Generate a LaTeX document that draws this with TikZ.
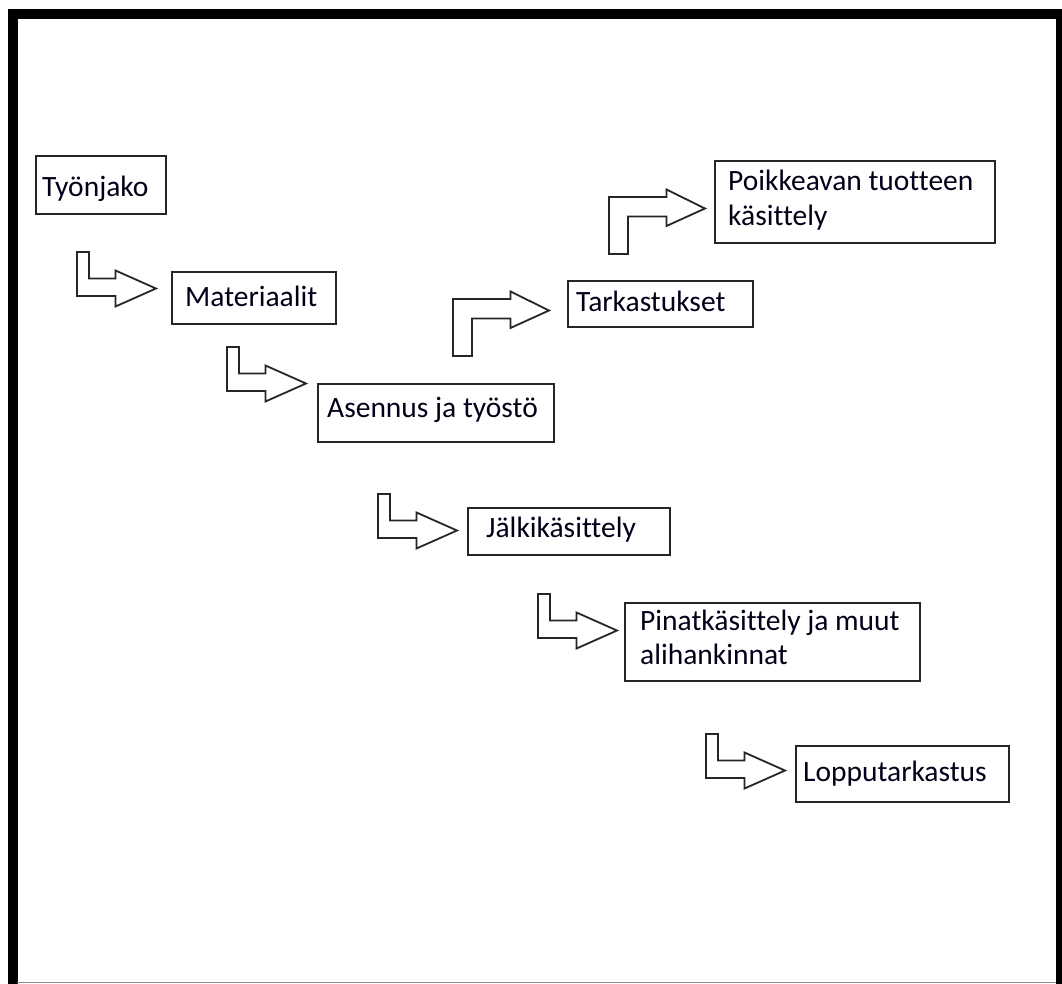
\documentclass[tikz,border=0pt]{standalone}
\usepackage{fontspec}
\setmainfont{Carlito}[RawFeature={-liga,-clig,-calt,-dlig}]
\begin{document}
\begin{tikzpicture}[x=1pt,y=-1pt,
  box/.style={draw=black!85, line width=1.8pt, fill=white, inner sep=0pt, anchor=north west},
  txt/.style={anchor=base west, inner sep=0pt, text=black!90!blue, font=\fontsize{29.5}{35}\selectfont},
  blockarrow/.style={draw=black!85, line width=1.8pt, line join=miter, fill=white},
  % L-shaped arrow: goes down, then turns right
  pics/downright/.style={code={
    \draw[blockarrow] (0,0) -- (12,0) -- (12,26.5) -- (38.5,26.5) -- (38.5,18.5)
      -- (79,36.5) -- (38.5,54.5) -- (38.5,44) -- (0,44) -- cycle;}},
  % L-shaped arrow: goes up, then turns right
  pics/upright/.style={code={
    \draw[blockarrow] (0,0) -- (0,-57) -- (57.5,-57) -- (57.5,-64.5)
      -- (96,-45.5) -- (57.5,-28) -- (57.5,-37.5) -- (19,-37.5) -- (19,0) -- cycle;}}
]
\useasboundingbox (0,0) rectangle (1062,983);
\clip (0,0) rectangle (1062,983);
\fill[white] (0,0) rectangle (1062,983);
% outer frame
\draw[line width=10pt] (12.5,14) rectangle (1061,992);
\draw[black!45, line width=1pt] (17,982) -- (1056,982);

% boxes
\node[box, minimum width=130pt, minimum height=58pt] (tyonjako) at (35,155) {};
\node[box, minimum width=164pt, minimum height=52pt] (materiaalit) at (171,271) {};
\node[box, minimum width=236pt, minimum height=58pt] (asennus) at (317,383) {};
\node[box, minimum width=185pt, minimum height=46pt] (tarkastukset) at (567,280) {};
\node[box, minimum width=280pt, minimum height=82pt] (poikkeava) at (714,160) {};
\node[box, minimum width=202pt, minimum height=47pt] (jalki) at (467,507) {};
\node[box, minimum width=295pt, minimum height=78pt] (pinta) at (624,602) {};
\node[box, minimum width=213pt, minimum height=56pt] (loppu) at (795,745) {};

% texts
\node[txt] (t1) at (42,196) {Työnjako};
\node[txt] (t2) at (185,306) {Materiaalit};
\node[txt] (t3) at (327,417) {Asennus ja työstö};
\node[txt] (t4) at (576,311) {Tarkastukset};
\node[txt] (t5a) at (728,190) {Poikkeavan tuotteen};
\node[txt] (t5b) at (728,225) {käsittely};
\node[txt] (t6) at (486,537) {Jälkikäsittely};
\node[txt] (t7a) at (640,630) {Pinatkäsittely ja muut};
\node[txt] (t7b) at (640,664) {alihankinnat};
\node[txt] (t8) at (803,781) {Lopputarkastus};

% block arrows between the steps
\pic at (77,252) {downright};
\pic at (227,347) {downright};
\pic at (378,494) {downright};
\pic at (538,594) {downright};
\pic at (706,734) {downright};
\pic at (453,356) {upright};
\pic at (609,254) {upright};
\end{tikzpicture}
\end{document}
